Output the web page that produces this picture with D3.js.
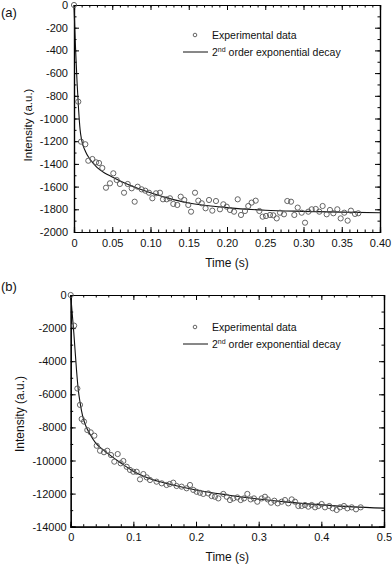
<!DOCTYPE html>
<html lang="en">
<head>
<meta charset="utf-8">
<title>Intensity decay</title>
<style>
  body { margin: 0; background: #fff; }
  svg { font-family: "Liberation Sans", Arial, sans-serif; }
  .domain { stroke: #000; stroke-width: 1.2; }
  .tick line { stroke: #000; stroke-width: 1; }
  .tick text { font-size: 11px; fill: #111; }
  .pt { fill: none; stroke: #555; stroke-width: 0.9; }
  .fit { fill: none; stroke: #111; stroke-width: 1.1; }
</style>
</head>
<body>
<script src="https://cdn.jsdelivr.net/npm/d3@7"></script>
<script>
// panel (a): experimental points [time, intensity]
var dataA = [[0,0],[0.0056,-852],[0.0092,-1204],[0.0148,-1227],[0.0187,-1372],[0.024,-1357],[0.0288,-1386],[0.0327,-1392],
  [0.037,-1436],[0.0418,-1610],[0.047,-1571],[0.0514,-1483],[0.0558,-1542],[0.060,-1577],[0.0654,-1654],[0.0702,-1577],
  [0.0754,-1615],[0.0793,-1733],[0.0832,-1601],[0.0884,-1624],[0.0932,-1636],[0.098,-1654],[0.1024,-1703],[0.1072,-1659],
  [0.1124,-1654],[0.1163,-1712],[0.1212,-1712],[0.1255,-1703],[0.1298,-1753],[0.135,-1762],[0.1395,-1689],[0.1442,-1718],
  [0.1494,-1762],[0.153,-1821],[0.1582,-1654],[0.1625,-1724],[0.167,-1747],[0.172,-1791],[0.1765,-1718],[0.1808,-1812],
  [0.1856,-1727],[0.1908,-1800],[0.1952,-1756],[0.1996,-1777],[0.2039,-1806],[0.2092,-1821],[0.214,-1712],[0.2183,-1850],
  [0.2235,-1815],[0.2278,-1771],[0.2322,-1741],[0.2375,-1724],[0.2423,-1815],[0.2466,-1865],[0.251,-1859],[0.2562,-1850],
  [0.2605,-1853],[0.265,-1880],[0.2693,-1830],[0.2745,-1844],[0.2788,-1727],[0.2837,-1733],[0.288,-1850],[0.2924,-1785],
  [0.2976,-1830],[0.302,-1918],[0.3063,-1821],[0.3107,-1800],[0.316,-1797],[0.3207,-1821],[0.325,-1771],[0.3303,-1844],
  [0.3346,-1806],[0.339,-1835],[0.3442,-1800],[0.3486,-1880],[0.3533,-1830],[0.3577,-1900],[0.362,-1812],[0.3673,-1841],
  [0.3716,-1835]];
// panel (a): fitted curve
var fitA = [[0,0],[0.001,-200],[0.002,-380],[0.004,-680],[0.006,-920],[0.008,-1100],[0.01,-1190],[0.015,-1290],[0.02,-1350],
  [0.03,-1430],[0.04,-1480],[0.05,-1515],[0.07,-1580],[0.1,-1655],[0.13,-1715],[0.15,-1745],[0.2,-1785],[0.25,-1808],
  [0.3,-1818],[0.35,-1825],[0.4,-1830]];

// panel (b)
var dataB = [[0,0],[0.0055,-1850],[0.0106,-5650],[0.0148,-6640],[0.0175,-7490],[0.0212,-7650],[0.0265,-8160],[0.0319,-8300],
  [0.0377,-8500],[0.0415,-9110],[0.0468,-9410],[0.0531,-9500],[0.0584,-9410],[0.0643,-9670],[0.0696,-10070],[0.075,-9610],
  [0.0798,-10170],[0.084,-10030],[0.0894,-10380],[0.0946,-10570],[0.0999,-10680],[0.1053,-10680],[0.1106,-11140],[0.1159,-10820],
  [0.1213,-11020],[0.1266,-11180],[0.137,-11280],[0.1453,-11380],[0.153,-11480],[0.158,-11420],[0.1637,-11340],[0.169,-11540],
  [0.177,-11580],[0.185,-11680],[0.1904,-11480],[0.1957,-11780],[0.201,-11890],[0.2063,-11950],[0.2116,-12020],[0.2196,-11990],
  [0.225,-12150],[0.2302,-12190],[0.2356,-12290],[0.2435,-12020],[0.249,-12190],[0.2542,-12390],[0.2595,-12290],[0.2659,-12230],
  [0.2713,-12390],[0.2766,-12290],[0.2819,-12020],[0.2872,-12350],[0.2925,-12290],[0.2978,-12490],[0.3048,-12290],[0.31,-12190],
  [0.3144,-12350],[0.3197,-12550],[0.325,-12430],[0.3303,-12590],[0.3367,-12490],[0.342,-12390],[0.3473,-12590],[0.3527,-12350],
  [0.358,-12490],[0.3633,-12750],[0.3686,-12750],[0.3739,-12690],[0.3792,-12790],[0.3846,-12690],[0.39,-12830],[0.3952,-12750],
  [0.4005,-12630],[0.4058,-12830],[0.4127,-12750],[0.4181,-12890],[0.4245,-12990],[0.4298,-12830],[0.4361,-12750],[0.4415,-12890],
  [0.4485,-12830],[0.4553,-12950],[0.4628,-12830]];
var fitB = [[0,0],[0.005,-2300],[0.009,-4400],[0.012,-5700],[0.015,-6500],[0.019,-7300],[0.024,-7900],[0.03,-8350],[0.04,-8950],
  [0.05,-9300],[0.06,-9600],[0.08,-10150],[0.1,-10650],[0.13,-11150],[0.16,-11450],[0.2,-11780],[0.25,-12080],[0.3,-12330],
  [0.35,-12530],[0.4,-12680],[0.45,-12800],[0.5,-12880]];

// tick values
var xMajorA = [0, 0.05, 0.10, 0.15, 0.20, 0.25, 0.30, 0.35, 0.40];
var yMajorA = [0, -200, -400, -600, -800, -1000, -1200, -1400, -1600, -1800, -2000];
var xMajorB = [0, 0.1, 0.2, 0.3, 0.4, 0.5];
var yMajorB = [0, -2000, -4000, -6000, -8000, -10000, -12000, -14000];

var legendLabels = ["Experimental data", "2", "nd", " order exponential decay"];

var svg = d3.select("body").append("svg")
    .attr("width", 392)
    .attr("height", 564);

function drawPanel(o) {
  var x = d3.scaleLinear().domain(o.xDomain).range([o.left, o.right]);
  var y = d3.scaleLinear().domain(o.yDomain).range([o.bottom, o.top]);
  var g = svg.append("g");

  // minor ticks (all four sides)
  g.append("g").attr("transform", "translate(0," + o.bottom + ")")
    .call(d3.axisBottom(x).tickValues(o.xMinor).tickSize(-2.5).tickFormat(""));
  g.append("g").attr("transform", "translate(0," + o.top + ")")
    .call(d3.axisTop(x).tickValues(o.xMinor).tickSize(-2.5).tickFormat(""));
  g.append("g").attr("transform", "translate(" + o.left + ",0)")
    .call(d3.axisLeft(y).tickValues(o.yMinor).tickSize(-2.5).tickFormat(""));
  g.append("g").attr("transform", "translate(" + o.right + ",0)")
    .call(d3.axisRight(y).tickValues(o.yMinor).tickSize(-2.5).tickFormat(""));

  // major ticks with labels
  g.append("g").attr("transform", "translate(0," + o.bottom + ")")
    .call(d3.axisBottom(x).tickValues(o.xMajor).tickSize(-5).tickPadding(o.xPad).tickFormat(o.xFmt));
  g.append("g").attr("transform", "translate(0," + o.top + ")")
    .call(d3.axisTop(x).tickValues(o.xMajor).tickSize(-5).tickFormat(""));
  g.append("g").attr("transform", "translate(" + o.left + ",0)")
    .call(d3.axisLeft(y).tickValues(o.yMajor).tickSize(-5).tickPadding(o.yPad).tickFormat(function(d) { return String(d); }));
  g.append("g").attr("transform", "translate(" + o.right + ",0)")
    .call(d3.axisRight(y).tickValues(o.yMajor).tickSize(-5).tickFormat(""));

  // fit line
  var line = d3.line()
    .x(function(d) { return x(d[0]); })
    .y(function(d) { return y(d[1]); })
    .curve(d3.curveMonotoneX);
  g.append("path").datum(o.fit).attr("class", "fit").attr("d", line);

  // data points
  g.selectAll("circle.pt").data(o.data).enter().append("circle")
    .attr("class", "pt")
    .attr("cx", function(d) { return x(d[0]); })
    .attr("cy", function(d) { return y(d[1]); })
    .attr("r", 2.6);

  // axis titles
  g.append("text")
    .attr("x", (o.left + o.right) / 2).attr("y", o.xTitleY)
    .attr("text-anchor", "middle").attr("font-size", 12).attr("fill", "#111")
    .text("Time (s)");
  g.append("text")
    .attr("transform", "translate(" + o.yTitleX + "," + o.yTitleY + ") rotate(-90)")
    .attr("text-anchor", "middle").attr("font-size", o.yTitleSize).attr("fill", "#111")
    .text("Intensity (a.u.)");

  // panel letter
  g.append("text").attr("x", 1).attr("y", o.letterY)
    .attr("font-size", 13).attr("fill", "#111").text(o.letter);

  // legend
  g.append("circle").attr("class", "pt")
    .attr("cx", 195).attr("cy", o.legY).attr("r", 1.8);
  g.append("text").attr("x", 212).attr("y", o.legY + 3.5)
    .attr("font-size", 10.5).attr("fill", "#111").text(legendLabels[0]);
  g.append("line").attr("x1", 183).attr("x2", 208)
    .attr("y1", o.legY + 17).attr("y2", o.legY + 17)
    .attr("stroke", "#111").attr("stroke-width", 1);
  var t2 = g.append("text").attr("x", 212).attr("y", o.legY + 21)
    .attr("font-size", 10.5).attr("fill", "#111");
  t2.append("tspan").text(legendLabels[1]);
  t2.append("tspan").attr("dy", -4).attr("font-size", 7).text(legendLabels[2]);
  t2.append("tspan").attr("dy", 4).text(legendLabels[3]);
}

function range(a, b, step) {
  var out = [];
  for (var i = 0; a + i * step <= b + 1e-9; i++) out.push(+(a + i * step).toFixed(6));
  return out;
}

drawPanel({
  left: 74, right: 380, top: 5, bottom: 232,
  xDomain: [0, 0.4], yDomain: [-2000, 0],
  xMajor: xMajorA, yMajor: yMajorA,
  xMinor: range(0, 0.4, 0.01), yMinor: range(-2000, 0, 100),
  xFmt: function(d) { return d === 0 ? "0" : d.toFixed(2); },
  xPad: 7, yPad: 6,
  data: dataA, fit: fitA,
  xTitleY: 267, yTitleX: 32, yTitleY: 125, yTitleSize: 11.5,
  letter: "(a)", letterY: 17, legY: 35
});

drawPanel({
  left: 70.7, right: 384, top: 295, bottom: 526.7,
  xDomain: [0, 0.5], yDomain: [-14000, 0],
  xMajor: xMajorB, yMajor: yMajorB,
  xMinor: range(0, 0.5, 0.02), yMinor: range(-14000, 0, 1000),
  xFmt: function(d) { return d === 0 ? "0" : d.toFixed(1); },
  xPad: 6.5, yPad: 4,
  data: dataB, fit: fitB,
  xTitleY: 561, yTitleX: 24, yTitleY: 414, yTitleSize: 12,
  letter: "(b)", letterY: 291, legY: 327
});
</script>
</body>
</html>
